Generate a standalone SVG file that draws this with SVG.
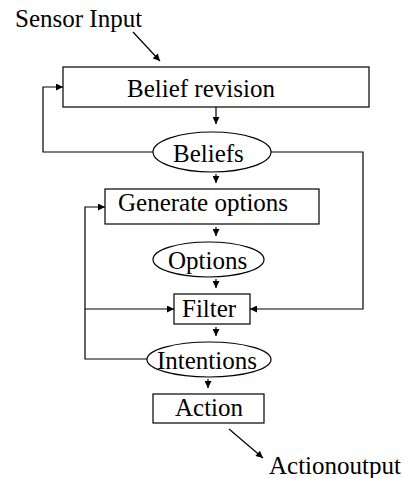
<svg xmlns="http://www.w3.org/2000/svg" width="408" height="478" viewBox="0 0 408 478">
<style>
.box{fill:#fff;stroke:#000;stroke-width:1.2}
.t{font-family:"Liberation Serif","Times New Roman",serif;font-size:25px;fill:#000}
.c{fill:none;stroke:#000;stroke-width:1.2}
</style>
<defs>
<marker id="ah" viewBox="0 0 10 10" refX="10" refY="5" markerWidth="8" markerHeight="7" markerUnits="userSpaceOnUse" orient="auto">
<path d="M0,0 L10,5 L0,10 Z" fill="#000"/>
</marker>
</defs>
<rect width="408" height="478" fill="#fff"/>
<g id="connectors">
<line class="c" x1="133" y1="32" x2="160" y2="61" marker-end="url(#ah)"/>
<line class="c" x1="216" y1="107" x2="216" y2="124" marker-end="url(#ah)"/>
<polyline class="c" points="153,152 43,152 43,87 63,87" marker-end="url(#ah)"/>
<polyline class="c" points="271,152 363,152 363,309 250,309" marker-end="url(#ah)"/>
<line class="c" x1="216" y1="174" x2="216" y2="183" marker-end="url(#ah)"/>
<line class="c" x1="216" y1="227" x2="216" y2="236" marker-end="url(#ah)"/>
<line class="c" x1="216" y1="279" x2="216" y2="288" marker-end="url(#ah)"/>
<line class="c" x1="216" y1="327" x2="216" y2="336" marker-end="url(#ah)"/>
<line class="c" x1="208" y1="379" x2="208" y2="388" marker-end="url(#ah)"/>
<polyline class="c" points="147,359 85,359 85,207 105,207" marker-end="url(#ah)"/>
<line class="c" x1="85" y1="309" x2="174" y2="309" marker-end="url(#ah)"/>
<line class="c" x1="229" y1="429" x2="263" y2="458" marker-end="url(#ah)"/>
</g>
<g id="sensor-input"><text class="t" x="15" y="27">Sensor Input</text></g>
<g id="belief-revision">
<rect class="box" x="63" y="67" width="306" height="40"/>
<text class="t" x="127" y="97">Belief revision</text>
</g>
<g id="beliefs">
<ellipse class="box" cx="212" cy="152" rx="59" ry="20"/>
<text class="t" x="173" y="162">Beliefs</text>
</g>
<g id="generate-options">
<rect class="box" x="105" y="189" width="214" height="35"/>
<text class="t" x="118" y="211">Generate options</text>
</g>
<g id="options">
<ellipse class="box" cx="208.5" cy="259.5" rx="55.5" ry="17.5"/>
<text class="t" x="168" y="269">Options</text>
</g>
<g id="filter">
<rect class="box" x="174" y="294" width="76" height="30"/>
<text class="t" x="182" y="317">Filter</text>
</g>
<g id="intentions">
<ellipse class="box" cx="209" cy="359.5" rx="62" ry="17.5"/>
<text class="t" x="157" y="369">Intentions</text>
</g>
<g id="action">
<rect class="box" x="153" y="394" width="111" height="29"/>
<text class="t" x="175" y="416">Action</text>
</g>
<g id="action-output"><text class="t" x="269" y="474">Actionoutput</text></g>
</svg>
